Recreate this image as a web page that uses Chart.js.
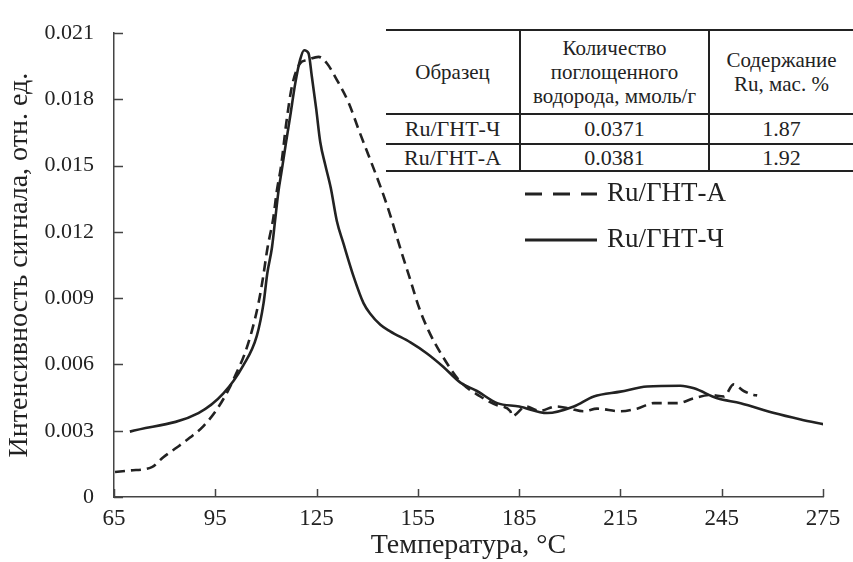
<!DOCTYPE html>
<html>
<head>
<meta charset="utf-8">
<script src="https://cdn.jsdelivr.net/npm/chart.js@4"></script>
<style>
  body { margin: 0; background: #fff; }
  #wrap { position: relative; width: 853px; height: 562px; }
  #tbl {
    position: absolute; left: 386px; top: 29px; width: 467px;
    border-collapse: collapse; background: #fff;
    font-family: "Liberation Serif", serif; font-size: 21px; color: #222;
  }
  #tbl td { text-align: center; padding: 0; line-height: 24px; white-space: nowrap; }
  #tbl tr.r td { font-size: 22px; }
  #tbl tr { border-bottom: 2px solid #222; }
  #tbl tr:first-child { border-top: 2px solid #222; }
  #tbl td + td { border-left: 2px solid #222; }
</style>
</head>
<body>
<div id="wrap">
  <canvas id="chart" width="853" height="562"></canvas>
  <table id="tbl">
    <tr style="height:84px"><td style="width:133px">Образец</td><td style="width:187px">Количество<br>поглощенного<br>водорода, ммоль/г</td><td>Содержание<br>Ru, мас. %</td></tr>
    <tr class="r" style="height:30px"><td>Ru/ГНТ-Ч</td><td>0.0371</td><td>1.87</td></tr>
    <tr class="r" style="height:27px"><td>Ru/ГНТ-А</td><td>0.0381</td><td>1.92</td></tr>
  </table>
</div>
<script>
// Ru/ГНТ-А (штриховая)
const tempA = [65.3, 69.7, 76.2, 79.6, 83.6, 87.5, 91.5, 95.4, 98.9, 101.4, 103.5, 105.8, 107.8, 109.0, 110.5, 112.2,
  113.2, 114.5, 116.0, 117.7, 120.1, 122.1, 125.6, 128.1, 131.0, 134.5, 137.4, 145.8, 150.3,
  152.8, 155.2, 158.2, 162.2, 167.6, 173.5, 178.5, 182.4, 182.9, 187, 191, 196, 200, 204.1, 208.1, 215, 219.9,
  224.9, 231.8, 236.8, 241.7, 245.7, 248.5, 251.5, 254.5, 255.5];
const signalA = [0.00113, 0.0012, 0.00135, 0.0018, 0.00224, 0.00269, 0.00321, 0.00395, 0.00485, 0.00566, 0.0064, 0.0075, 0.00878, 0.0098, 0.01131, 0.01265,
  0.01383, 0.0150, 0.0169, 0.01859, 0.01963, 0.01978, 0.01993, 0.01963, 0.01889, 0.01785, 0.01666, 0.01324, 0.01101,
  0.00982, 0.00864, 0.00752, 0.0064, 0.00522, 0.00455, 0.00415, 0.00388, 0.00366, 0.0041, 0.0039, 0.0041, 0.0040, 0.00388, 0.004, 0.00388, 0.004,
  0.00425, 0.00425, 0.00447, 0.00462, 0.00455, 0.0051, 0.0048, 0.00462, 0.0046];

// Ru/ГНТ-Ч (сплошная)
const tempCh = [69.7, 90.0, 97.4, 103.3, 107.3, 109.3, 110.4, 111.8, 112.7, 113.7, 114.7, 115.9, 117.2, 118.7, 120.1, 121.3,
  122.6, 123.6, 124.9, 126.1, 127.6, 129.2, 131.0, 133.0, 136.0, 138.9, 140.9, 143.9, 146.8, 152.8, 157.7, 162.5, 167.6,
  172.5, 178.5, 185, 193.3, 201.2, 207.1, 215.0, 222.9, 232.8, 236.8, 243.7, 250.6, 260.5, 268.4, 275.3];
const signalCh = [0.00296, 0.0038, 0.00469, 0.00596, 0.0073, 0.00878, 0.01012, 0.01131, 0.0125, 0.01383, 0.0148, 0.0160, 0.01725, 0.01874, 0.01978, 0.02023,
  0.0201, 0.01904, 0.01756, 0.01606, 0.01502, 0.0140, 0.0125, 0.01146, 0.00997, 0.00878, 0.0083, 0.0078, 0.0075, 0.0070, 0.0065, 0.0059, 0.00518,
  0.0048, 0.00425, 0.0041, 0.0038, 0.0041, 0.00455, 0.00477, 0.005, 0.00504, 0.00492, 0.00447, 0.00425, 0.0038, 0.00351, 0.00329];

const xTicks = [65, 95, 125, 155, 185, 215, 245, 275];
const yTicks = [0, 0.003, 0.006, 0.009, 0.012, 0.015, 0.018, 0.021];
const labelA = 'Ru/ГНТ-А';
const labelCh = 'Ru/ГНТ-Ч';

const serif = '"Liberation Serif", "Times New Roman", serif';
const ink = '#222';

// засечки внутрь области графика
const innerTicks = {
  id: 'innerTicks',
  afterDraw(chart) {
    const ctx = chart.ctx, xs = chart.scales.x, ys = chart.scales.y, a = chart.chartArea;
    ctx.save();
    ctx.strokeStyle = '#444';
    ctx.lineWidth = 1.5;
    ctx.beginPath();
    xTicks.forEach(t => {
      const px = Math.round(xs.getPixelForValue(t)) + 0.5;
      ctx.moveTo(px, a.bottom);
      ctx.lineTo(px, a.bottom - 8);
    });
    yTicks.forEach(t => {
      const py = Math.round(ys.getPixelForValue(t)) + 0.5;
      ctx.moveTo(a.left, py);
      ctx.lineTo(a.left + 9, py);
    });
    ctx.stroke();
    ctx.restore();
  }
};

// легенда под таблицей
const sideLegend = {
  id: 'sideLegend',
  afterDraw(chart) {
    const ctx = chart.ctx;
    const rows = [{ y: 194, ds: chart.data.datasets[0] }, { y: 240, ds: chart.data.datasets[1] }];
    ctx.save();
    rows.forEach(r => {
      ctx.strokeStyle = ink;
      ctx.lineWidth = 3;
      ctx.setLineDash(r.ds.borderDash.length ? [17, 11] : []);
      ctx.beginPath();
      ctx.moveTo(525, r.y);
      ctx.lineTo(597, r.y);
      ctx.stroke();
      ctx.setLineDash([]);
      ctx.fillStyle = ink;
      ctx.font = '27px ' + serif;
      ctx.textBaseline = 'middle';
      ctx.fillText(r.ds.label, 607, r.y);
    });
    ctx.restore();
  }
};

new Chart(document.getElementById('chart'), {
  type: 'line',
  data: {
    datasets: [{
      label: labelA,
      data: tempA.map((t, i) => ({ x: t, y: signalA[i] })),
      borderColor: ink,
      borderWidth: 2.6,
      borderDash: [10, 6],
      pointRadius: 0,
      cubicInterpolationMode: 'monotone'
    }, {
      label: labelCh,
      data: tempCh.map((t, i) => ({ x: t, y: signalCh[i] })),
      borderColor: ink,
      borderWidth: 2.6,
      borderDash: [],
      pointRadius: 0,
      cubicInterpolationMode: 'monotone'
    }]
  },
  options: {
    responsive: false,
    animation: false,
    layout: { padding: { top: 26, right: 30, left: 0, bottom: 0 } },
    plugins: { legend: { display: false }, tooltip: { enabled: false } },
    scales: {
      x: {
        type: 'linear',
        min: 65, max: 275,
        afterFit: s => { s.height = 65; },
        afterBuildTicks: s => { s.ticks = xTicks.map(v => ({ value: v })); },
        grid: { drawOnChartArea: false, drawTicks: false },
        border: { display: true, color: '#444', width: 1.5 },
        ticks: { color: ink, padding: 8, font: { family: serif, size: 23 } },
        title: { display: true, text: 'Температура, °C', color: ink, padding: { top: 0 }, font: { family: serif, size: 28, lineHeight: 0.85 } }
      },
      y: {
        min: 0, max: 0.021,
        afterFit: s => { s.width = 114; },
        afterBuildTicks: s => { s.ticks = yTicks.map(v => ({ value: v })); },
        grid: { drawOnChartArea: false, drawTicks: false },
        border: { display: true, color: '#444', width: 1.5 },
        ticks: {
          color: ink, padding: 20, font: { family: serif, size: 22 },
          callback: v => v === 0 ? '0' : v.toFixed(3)
        },
        title: { display: true, text: 'Интенсивность сигнала, отн. ед.', color: ink, padding: { bottom: 0 }, font: { family: serif, size: 28, lineHeight: 1.1 } }
      }
    }
  },
  plugins: [innerTicks, sideLegend]
});
</script>
</body>
</html>
